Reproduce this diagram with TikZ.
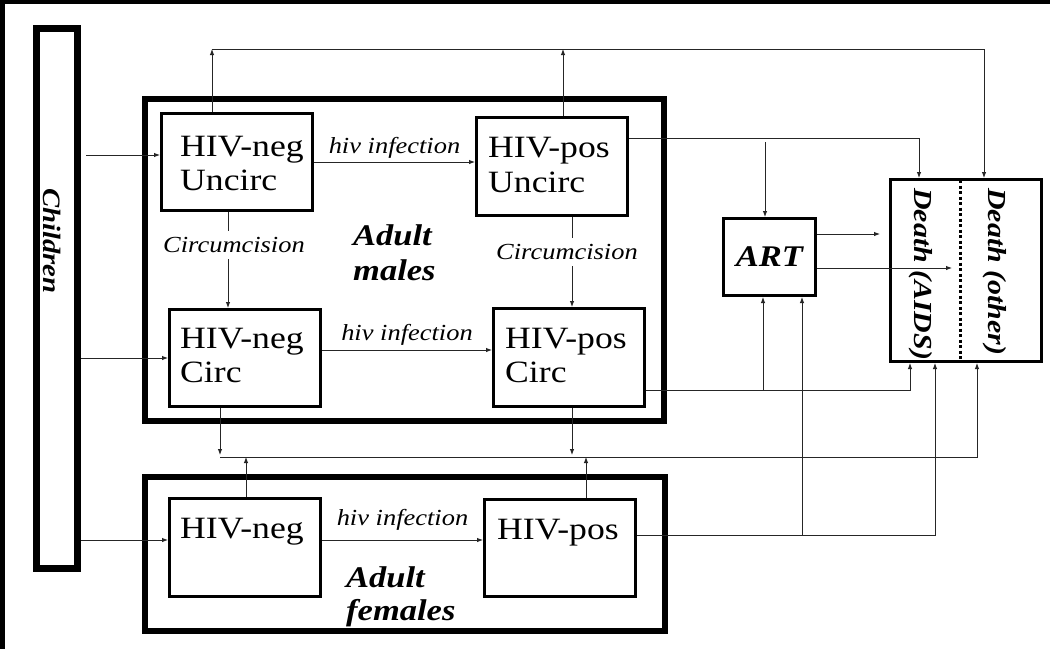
\documentclass[tikz,border=0pt]{standalone}
\usepackage{fontspec}
\newfontfamily\wf{Liberation Serif}[FakeStretch=1.15]
\usetikzlibrary{arrows.meta}
\newcommand\myhiv{\wf\fontsize{31}{34}\selectfont}
\newcommand\mylab{\wf\itshape\fontsize{23}{26}\selectfont}
\newcommand\mybi{\wf\bfseries\itshape\fontsize{30}{34}\selectfont}
\newcommand\mydeath{\wf\bfseries\itshape\fontsize{26}{30}\selectfont}
\newcommand\mych{\wf\bfseries\itshape\fontsize{25}{30}\selectfont}
\begin{document}
\begin{tikzpicture}[x=1pt,y=-1pt,
  lw/.style={line width=0.9pt, draw=black!85},
  arr/.style={lw, -{Latex[length=6pt,width=4.5pt]}},
  sbox/.style={draw, line width=3pt, inner sep=0pt, minimum width=151pt},
  bbox/.style={draw, line width=6pt, inner sep=0pt},
  txt/.style={anchor=base west, inner sep=0pt, font=\myhiv},
  lab/.style={inner sep=0pt, font=\mylab},
  bilab/.style={anchor=base west, inner sep=0pt, font=\mybi},
  vlab/.style={rotate=-90, anchor=west, inner sep=0pt}
]
\useasboundingbox (0,0) rectangle (1050,649);
\fill[white] (0,0) rectangle (1050,649);
\fill[black] (0,0) rectangle (1050,4);
\fill[black] (0,0) rectangle (5,649);

% big boxes
\node[bbox, minimum width=519pt, minimum height=322pt] (M) at (404.5,260) {};
\node[bbox, minimum width=520pt, minimum height=154pt] (F) at (405,554) {};
\node[draw, line width=7pt, inner sep=0pt, minimum width=41pt, minimum height=540pt] (CH) at (57,298.5) {};
\node[vlab, font=\mych] (tCH) at (52,188) {Children};

% compartments
\node[sbox, minimum height=97pt] (NU) at (237,162) {};
\node[sbox, minimum height=98pt] (PU) at (552,166.5) {};
\node[sbox, minimum height=97pt] (NC) at (245,358) {};
\node[sbox, minimum height=98pt] (PC) at (569,357.5) {};
\node[sbox, minimum height=98pt] (FN) at (245,547.5) {};
\node[sbox, minimum height=97pt] (FP) at (560,548) {};
\node[sbox, minimum width=92pt, minimum height=77pt, font=\mybi] (ART) at (769.5,257) {ART};
\node[sbox, minimum height=182pt] (D) at (966,270.5) {};
\draw[line width=3pt, dash pattern=on 3pt off 2.5pt] (960,180) -- (960,362);
\node[vlab, font=\mydeath] (tDA) at (921,188) {Death (AIDS)};
\node[vlab, font=\mydeath] (tDO) at (995,188) {Death (other)};

% compartment texts
\node[txt] (tNU1) at (180,156) {HIV-neg};
\node[txt] (tNU2) at (180,190) {Uncirc};
\node[txt] (tPU1) at (488,157) {HIV-pos};
\node[txt] (tPU2) at (488,192) {Uncirc};
\node[txt] (tNC1) at (180,348) {HIV-neg};
\node[txt] (tNC2) at (180,382) {Circ};
\node[txt] (tPC1) at (505,348) {HIV-pos};
\node[txt] (tPC2) at (505,382) {Circ};
\node[txt] (tFN1) at (180,538) {HIV-neg};
\node[txt] (tFP1) at (497,539) {HIV-pos};

% group labels
\node[bilab] (tM1) at (353,245) {Adult};
\node[bilab] (tM2) at (353,280) {males};
\node[bilab] (tF1) at (346,587) {Adult};
\node[bilab] (tF2) at (346,620) {females};

% inputs from children
\coordinate (in1) at (86,155);
\draw[arr] (in1) -- (in1 -| NU.west);
\draw[arr] (CH.east |- NC.west) -- (NC.west);
\coordinate (in3) at (81,540);
\draw[arr] (in3 -| CH.east) -- (in3 -| FN.west);

% infections
\draw[arr] (NU.east |- 0,162) -- (PU.west |- 0,162)
  node[midway, lab, anchor=base, yshift=9pt] (i1) {hiv infection};
\draw[arr] (NC.east |- 0,350) -- (PC.west |- 0,350)
  node[midway, lab, anchor=base, yshift=10pt] (i2) {hiv infection};
\draw[arr] (FN.east |- 0,540) -- (FP.west |- 0,540)
  node[midway, lab, anchor=base, yshift=15pt] (i3) {hiv infection};

% circumcision
\draw[arr] (NU.south -| 228,0) -- (NC.north -| 228,0);
\node[lab, fill=white, inner xsep=2pt, inner ysep=6pt] (c1) at (234,245) {Circumcision};
\draw[arr] (PU.south -| 572,0) -- (PC.north -| 572,0);
\node[lab, fill=white, inner xsep=2pt, inner ysep=6pt] (c2) at (567,252) {Circumcision};

% top line to death (other)
\coordinate (T1) at (212,49);
\coordinate (T2) at (563,49);
\coordinate (TR) at (984,49);
\draw[arr] (NU.north -| T1) -- (T1);
\draw[arr] (PU.north -| T2) -- (T2);
\draw[arr] (T1) -- (TR) -- (TR |- D.north);

% HIV-pos uncirc to death (AIDS) and ART
\coordinate (R1) at (919,138);
\draw[arr] (PU.east |- R1) -- (R1) -- (R1 |- D.north);
\coordinate (A1) at (765,142);
\draw[arr] (A1) -- (A1 |- ART.north);

% ART to death
\coordinate (E1) at (880,234);
\coordinate (E2) at (952,268);
\draw[arr] (ART.east |- E1) -- (E1);
\draw[arr] (ART.east |- E2) -- (E2);

% HIV-pos circ to death and ART
\coordinate (R2) at (910,390);
\draw[arr] (PC.east |- R2) -- (R2) -- (R2 |- D.south);
\coordinate (A2) at (763,390);
\draw[arr] (A2) -- (A2 |- ART.south);

% female HIV-pos to death and ART
\coordinate (R3) at (935,535);
\draw[arr] (FP.east |- R3) -- (R3) -- (R3 |- D.south);
\coordinate (A3) at (802,535);
\draw[arr] (A3) -- (A3 |- ART.south);

% exchange line to death (other)
\coordinate (B0) at (220,457);
\coordinate (BR) at (977,457);
\draw[arr] (B0) -- (BR) -- (BR |- D.south);
\coordinate (B1) at (220,455);
\coordinate (B2) at (572,455);
\coordinate (B3) at (246,457);
\coordinate (B4) at (586,457);
\draw[arr] (NC.south -| B1) -- (B1);
\draw[arr] (PC.south -| B2) -- (B2);
\draw[arr] (FN.north -| B3) -- (B3);
\draw[arr] (FP.north -| B4) -- (B4);
\end{tikzpicture}
\end{document}
